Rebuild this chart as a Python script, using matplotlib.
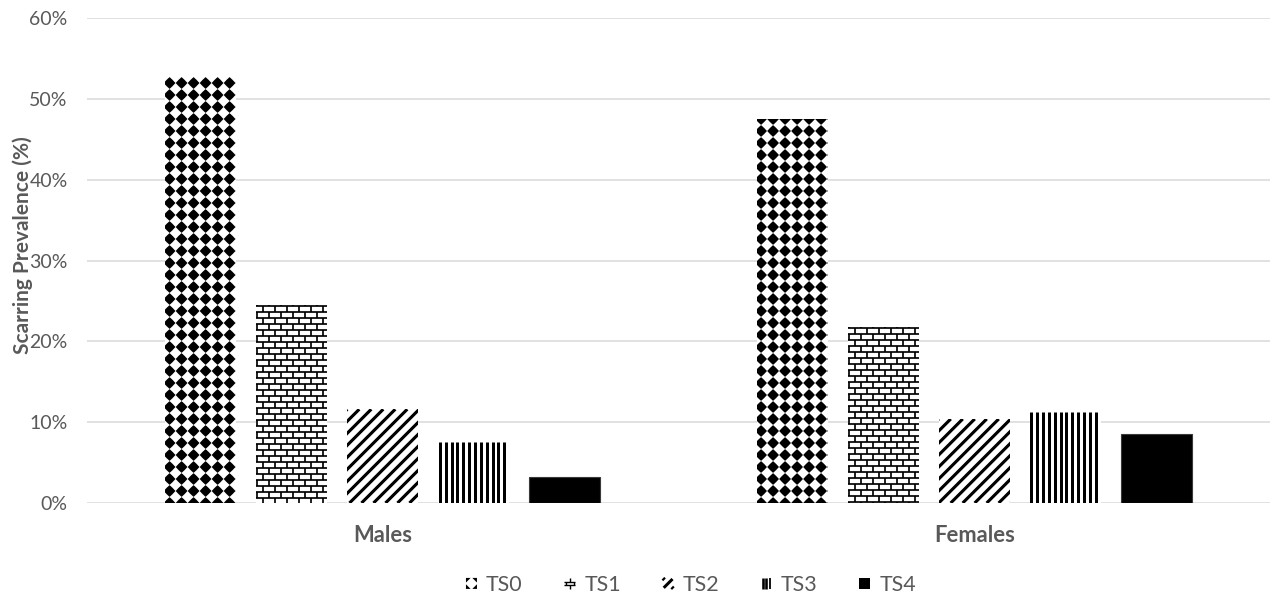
import numpy as np
import matplotlib
matplotlib.use("Agg")
import matplotlib.pyplot as plt
from matplotlib.collections import LineCollection, PolyCollection
from matplotlib.patches import Rectangle, Polygon
from matplotlib.lines import Line2D
from matplotlib.legend_handler import HandlerBase
from matplotlib.transforms import IdentityTransform

# ---- data -------------------------------------------------------------
groups = ["Males", "Females"]
stages = ["TS0", "TS1", "TS2", "TS3", "TS4"]
males = [52.7, 24.5, 11.6, 7.5, 3.2]
females = [47.5, 21.8, 10.4, 11.3, 8.5]
y_ticks = [0, 10, 20, 30, 40, 50, 60]
fills = ["diamond", "brick", "diag", "vert", "solid"]

# ---- style ------------------------------------------------------------
TEXT = "#595959"
GRID = "#d9d9d9"
DPI = 100
PT = 72 / DPI  # points per pixel

plt.rcParams["font.family"] = ["Lato", "DejaVu Sans"]

fig = plt.figure(figsize=(12.75, 5.96), dpi=DPI)
W, H = fig.get_size_inches() * DPI
ax = fig.add_axes([87 / W, 93 / H, 1183 / W, 485 / H])
ax.set_xlim(-0.5, len(groups) - 0.5)
ax.set_ylim(y_ticks[0], y_ticks[-1])

for s in ax.spines.values():
    s.set_visible(False)
ax.set_yticks(y_ticks)
ax.set_yticklabels([f"{t}%" for t in y_ticks])
ax.yaxis.grid(True, color=GRID, linewidth=1.1)
ax.set_axisbelow(True)
ax.tick_params(axis="y", length=0, pad=14, labelsize=14, labelcolor=TEXT)
ax.set_xticks(range(len(groups)))
ax.set_xticklabels(groups, fontweight="bold")
ax.tick_params(axis="x", length=0, pad=16, labelsize=15.8, labelcolor=TEXT)
ax.set_ylabel("Scarring Prevalence (%)", fontsize=15, fontweight="bold", color=TEXT)
ax.yaxis.set_label_coords(-0.046, 0.532)


# ---- fill patterns (built in pixel space, clipped to each bar) -------
def pattern_collections(kind, x0, y0, x1, y1):
    ident = IdentityTransform()
    out = []
    if kind == "diamond":
        step, r = 12.0, 5.9
        a = 0.52 * r
        shape = np.array([(r, 0), (a, a), (0, r), (-a, a),
                          (-r, 0), (-a, -a), (0, -r), (a, -a)])
        xs = np.arange(x0 + 4.5, x1 + step, step)
        ys = np.arange(y0, y1 + step, step)
        polys = [shape + (cx, cy) for cx in xs for cy in ys]
        out.append(PolyCollection(polys, facecolors="black", edgecolors="none",
                                  transform=ident))
    elif kind == "brick":
        bw, bh = 12.0, 6.0
        segs = []
        ys = np.arange(y1 - 1.5, y0 - bh, -bh)
        for k, yy in enumerate(ys):
            segs.append([(x0 - 2, yy), (x1 + 2, yy)])
            phase = 1.0 if k % 2 == 0 else 1.0 + bw / 2
            for xx in np.arange(x0 + phase - bw, x1 + bw, bw):
                segs.append([(xx, yy), (xx, yy + bh)])
        out.append(LineCollection(segs, colors="black", linewidths=1.7 * PT,
                                  capstyle="butt", transform=ident))
    elif kind == "diag":
        period = 12.0
        hgt = y1 - y0
        segs = []
        for c in np.arange(x0 - hgt - period, x1 + period, period):
            segs.append([(c, y0), (c + hgt, y1)])
        out.append(LineCollection(segs, colors="black", linewidths=3.1 * PT,
                                  capstyle="butt", transform=ident))
    elif kind == "vert":
        period = 5.85
        segs = [[(xx, y0), (xx, y1)] for xx in np.arange(x0 + 1.5, x1, period)]
        out.append(LineCollection(segs, colors="black", linewidths=3.0 * PT,
                                  capstyle="butt", transform=ident))
    return out


# ---- bars ---------------------------------------------------------------
series = np.array([males, females])  # rows: groups, cols: stages
step = 0.154
width = 0.12
xg = np.arange(len(groups))
for j, (stage, kind) in enumerate(zip(stages, fills)):
    xpos = xg + (j - (len(stages) - 1) / 2) * step
    solid = kind == "solid"
    bars = ax.bar(xpos, series[:, j], width=width,
                  color="black" if solid else "white",
                  edgecolor="#3a3a3a" if solid else "none",
                  linewidth=0.8 if solid else 0, zorder=2, label=stage)
    if solid:
        continue
    for bar in bars:
        (bx0, by0), (bx1, by1) = ax.transData.transform(
            [(bar.get_x(), bar.get_y()),
             (bar.get_x() + bar.get_width(), bar.get_y() + bar.get_height())])
        for coll in pattern_collections(kind, bx0, by0, bx1, by1):
            coll.set_zorder(2.5)
            ax.add_collection(coll, autolim=False)
            # clip to the bar after adding, so the axes clip does not replace it
            coll.set_clip_path(bar)


# ---- legend swatches -----------------------------------------------------
class SwatchHandler(HandlerBase):
    def create_artists(self, legend, orig_handle, xdescent, ydescent,
                       width, height, fontsize, trans):
        kind = orig_handle.get_gid()
        side = width
        x0 = -xdescent
        y0 = -ydescent + (height - side) / 2
        x1, y1 = x0 + side, y0 + side
        u = side / 10.0
        arts = []
        if kind == "solid":
            arts.append(Rectangle((x0, y0), side, side, facecolor="black",
                                  edgecolor="none", transform=trans))
        elif kind == "diamond":
            r = 4.2 * u
            for cx, cy, sx, sy in [(x0, y0, 1, 1), (x1, y0, -1, 1),
                                   (x0, y1, 1, -1), (x1, y1, -1, -1)]:
                arts.append(Polygon([(cx, cy), (cx + sx * r, cy), (cx, cy + sy * r)],
                                    closed=True, facecolor="black",
                                    edgecolor="none", transform=trans))
        elif kind == "brick":
            lw = 1.4 * PT
            ya, yb = y0 + side / 3, y0 + 2 * side / 3
            cx = (x0 + x1) / 2
            for seg in [[(x0, ya), (x1, ya)], [(x0, yb), (x1, yb)],
                        [(cx, yb), (cx, y1)], [(cx, y0), (cx, ya)],
                        [(x0 + 1.2 * u, ya), (x0 + 1.2 * u, yb)],
                        [(x1 - 1.2 * u, ya), (x1 - 1.2 * u, yb)]]:
                (sx0, sy0), (sx1, sy1) = seg
                arts.append(Line2D([sx0, sx1], [sy0, sy1], color="black",
                                   linewidth=lw, solid_capstyle="butt",
                                   transform=trans))
        elif kind == "diag":
            arts.append(Line2D([x0 + 1 * u, x1 - 1 * u], [y0 + 1 * u, y1 - 1 * u],
                               color="black", linewidth=3.0 * PT,
                               solid_capstyle="butt", transform=trans))
            for (px, py) in [(x0 + 1 * u, y1 - 1 * u), (x1 - 1 * u, y0 + 1 * u)]:
                arts.append(Line2D([px - 1.2 * u, px + 1.2 * u],
                                   [py - 1.2 * u, py + 1.2 * u],
                                   color="black", linewidth=2.2 * PT,
                                   solid_capstyle="butt", transform=trans))
        elif kind == "vert":
            for k, xx in enumerate([x0 + 1.5 * u, x0 + 5.0 * u, x0 + 8.5 * u]):
                arts.append(Line2D([xx, xx], [y0, y1], color="black",
                                   linewidth=(2.6 if k < 2 else 1.8) * PT,
                                   solid_capstyle="butt", transform=trans))
        return arts


handles = []
for stage, kind in zip(stages, fills):
    h = Rectangle((0, 0), 1, 1, label=stage)
    h.set_gid(kind)
    handles.append(h)

leg_fs = 15.4
fig.legend(handles=handles, labels=stages, loc="center",
           bbox_to_anchor=(691 / W, 1 - 585 / H), ncol=len(stages),
           frameon=False, fontsize=leg_fs, labelcolor=TEXT,
           handlelength=11 * PT / leg_fs, handleheight=11 * PT / leg_fs,
           handletextpad=9 * PT / leg_fs, columnspacing=1.95,
           handler_map={Rectangle: SwatchHandler()})

fig.savefig("out.png", dpi=DPI, facecolor="white")
